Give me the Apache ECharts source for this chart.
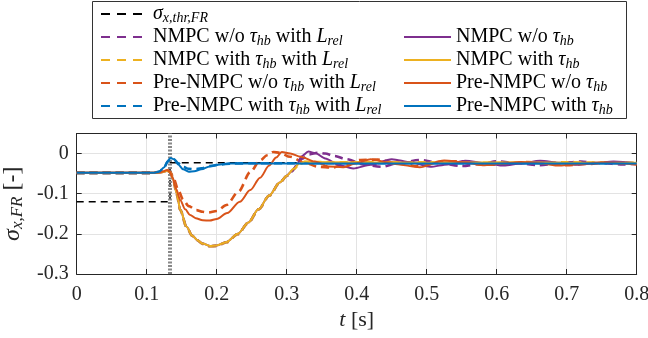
<!DOCTYPE html>
<html><head><meta charset="utf-8">
<script src="https://cdn.jsdelivr.net/npm/echarts@6/dist/echarts.min.js"></script>
<style>html,body{margin:0;padding:0;background:#fff}#c{width:648px;height:338px}</style>
</head><body><div id="c"></div>
<script>
// ---------- data ----------
const xTicks = [0, 0.1, 0.2, 0.3, 0.4, 0.5, 0.6, 0.7, 0.8];
const yTicks = [-0.3, -0.2, -0.1, 0];

const tThr = [0, 0.1333, 0.1333, 0.8];
const thr  = [-0.12, -0.12, -0.023, -0.023];

const tEvent = [0.1333, 0.1333];
const eventY = [-0.3, 0.05];

const tBlue = [0, 0.11, 0.118, 0.125, 0.13, 0.134, 0.139, 0.145, 0.152, 0.16, 0.168, 0.178, 0.19, 0.205, 0.22, 0.25, 0.3, 0.4, 0.5, 0.6, 0.7, 0.8];
const blueSolid = [-0.048, -0.048, -0.045, -0.034, -0.019, -0.011, -0.014, -0.027, -0.039, -0.045, -0.044, -0.039, -0.032, -0.027, -0.025, -0.025, -0.025, -0.025, -0.025, -0.025, -0.025, -0.025];
const blueDash  = [-0.048, -0.048, -0.045, -0.035, -0.020, -0.012, -0.014, -0.024, -0.033, -0.038, -0.039, -0.037, -0.031, -0.027, -0.025, -0.024, -0.024, -0.024, -0.024, -0.024, -0.024, -0.024];

const tYellow = [0, 0.11, 0.122, 0.13, 0.134, 0.138, 0.143, 0.148, 0.157, 0.165, 0.172, 0.18, 0.19, 0.2, 0.214, 0.23, 0.245, 0.26, 0.275, 0.29, 0.3, 0.31, 0.318, 0.326, 0.34, 0.4, 0.5, 0.6, 0.7, 0.8];
const yellowSolid = [-0.048, -0.048, -0.046, -0.043, -0.047, -0.065, -0.100, -0.140, -0.182, -0.204, -0.215, -0.224, -0.230, -0.229, -0.220, -0.200, -0.172, -0.138, -0.104, -0.072, -0.055, -0.038, -0.025, -0.020, -0.021, -0.022, -0.023, -0.022, -0.023, -0.023];
const yellowDash  = [-0.048, -0.048, -0.046, -0.043, -0.047, -0.066, -0.102, -0.141, -0.183, -0.205, -0.216, -0.225, -0.231, -0.230, -0.221, -0.201, -0.173, -0.139, -0.105, -0.073, -0.056, -0.039, -0.026, -0.021, -0.021, -0.022, -0.022, -0.023, -0.022, -0.023];

const tPurple = [0, 0.11, 0.122, 0.13, 0.134, 0.138, 0.143, 0.148, 0.157, 0.165, 0.172, 0.18, 0.19, 0.2, 0.214, 0.23, 0.245, 0.26, 0.275, 0.29, 0.3, 0.307, 0.314, 0.321, 0.331, 0.341, 0.355, 0.375, 0.395, 0.42, 0.45, 0.478, 0.505, 0.53, 0.555, 0.585, 0.61, 0.635, 0.662, 0.69, 0.714, 0.74, 0.767, 0.8];
const purpleSolid = [-0.048, -0.048, -0.046, -0.043, -0.047, -0.065, -0.100, -0.140, -0.182, -0.204, -0.215, -0.224, -0.230, -0.229, -0.220, -0.200, -0.172, -0.138, -0.104, -0.072, -0.055, -0.044, -0.030, -0.007, 0.005, 0.001, -0.012, -0.029, -0.037, -0.028, -0.014, -0.022, -0.033, -0.027, -0.018, -0.024, -0.030, -0.025, -0.018, -0.023, -0.028, -0.024, -0.020, -0.024];
const tPurpleD = [0, 0.11, 0.122, 0.13, 0.134, 0.138, 0.143, 0.148, 0.157, 0.165, 0.172, 0.18, 0.19, 0.2, 0.214, 0.23, 0.245, 0.26, 0.275, 0.29, 0.3, 0.307, 0.314, 0.322, 0.332, 0.345, 0.355, 0.368, 0.385, 0.41, 0.435, 0.46, 0.49, 0.52, 0.55, 0.58, 0.6, 0.63, 0.66, 0.69, 0.72, 0.75, 0.78, 0.8];
const purpleDash = [-0.048, -0.048, -0.046, -0.043, -0.047, -0.066, -0.102, -0.141, -0.183, -0.205, -0.216, -0.225, -0.231, -0.230, -0.221, -0.201, -0.173, -0.139, -0.105, -0.073, -0.056, -0.045, -0.031, -0.013, -0.002, 0.002, 0.000, -0.006, -0.014, -0.027, -0.033, -0.024, -0.016, -0.024, -0.031, -0.025, -0.019, -0.024, -0.029, -0.024, -0.020, -0.024, -0.027, -0.025];

const tOrange = [0, 0.11, 0.122, 0.129, 0.133, 0.137, 0.142, 0.148, 0.155, 0.162, 0.17, 0.18, 0.19, 0.2, 0.215, 0.233, 0.248, 0.262, 0.275, 0.285, 0.293, 0.305, 0.32, 0.34, 0.36, 0.38, 0.4, 0.42, 0.455, 0.49, 0.525, 0.555, 0.58, 0.61, 0.635, 0.66, 0.69, 0.72, 0.75, 0.78, 0.8];
const orangeSolid = [-0.048, -0.048, -0.045, -0.041, -0.045, -0.060, -0.088, -0.116, -0.139, -0.153, -0.161, -0.166, -0.167, -0.163, -0.148, -0.120, -0.091, -0.060, -0.030, -0.010, 0.004, 0.000, -0.008, -0.020, -0.032, -0.034, -0.024, -0.014, -0.026, -0.034, -0.017, -0.022, -0.029, -0.025, -0.021, -0.024, -0.030, -0.026, -0.022, -0.025, -0.028];
const tOrangeD = [0, 0.11, 0.122, 0.129, 0.134, 0.138, 0.145, 0.152, 0.16, 0.171, 0.18, 0.188, 0.2, 0.214, 0.231, 0.248, 0.262, 0.272, 0.281, 0.29, 0.305, 0.325, 0.345, 0.365, 0.385, 0.405, 0.43, 0.46, 0.49, 0.52, 0.55, 0.58, 0.61, 0.64, 0.67, 0.7, 0.73, 0.76, 0.8];
const orangeDash = [-0.048, -0.048, -0.045, -0.041, -0.046, -0.060, -0.090, -0.115, -0.131, -0.141, -0.145, -0.147, -0.143, -0.128, -0.095, -0.046, -0.017, -0.004, 0.004, 0.002, -0.008, -0.022, -0.033, -0.035, -0.026, -0.016, -0.015, -0.025, -0.032, -0.020, -0.019, -0.028, -0.027, -0.021, -0.023, -0.029, -0.026, -0.022, -0.026];

const names = {
  thr: 'σx,thr,FR',
  pD: 'NMPC w/o τhb with Lrel',
  yD: 'NMPC with τhb with Lrel',
  oD: 'Pre-NMPC w/o τhb with Lrel',
  bD: 'Pre-NMPC with τhb with Lrel',
  pS: 'NMPC w/o τhb',
  yS: 'NMPC with τhb',
  oS: 'Pre-NMPC w/o τhb',
  bS: 'Pre-NMPC with τhb'
};
const richNames = {
  'σx,thr,FR': '{i|σ}{s|x,thr,FR}',
  'NMPC w/o τhb with Lrel': 'NMPC w/o {i|τ}{s|hb} with {i|L}{s|rel}',
  'NMPC with τhb with Lrel': 'NMPC with {i|τ}{s|hb} with {i|L}{s|rel}',
  'Pre-NMPC w/o τhb with Lrel': 'Pre-NMPC w/o {i|τ}{s|hb} with {i|L}{s|rel}',
  'Pre-NMPC with τhb with Lrel': 'Pre-NMPC with {i|τ}{s|hb} with {i|L}{s|rel}',
  'NMPC w/o τhb': 'NMPC w/o {i|τ}{s|hb}',
  'NMPC with τhb': 'NMPC with {i|τ}{s|hb}',
  'Pre-NMPC w/o τhb': 'Pre-NMPC w/o {i|τ}{s|hb}',
  'Pre-NMPC with τhb': 'Pre-NMPC with {i|τ}{s|hb}'
};

const C = {blue: '#0072BD', orange: '#D95319', yellow: '#EDB120', purple: '#7E2F8E'};
const FONT = 'Liberation Serif';
const FS = 20;

function zip(t, v) { return t.map((x, i) => [x, v[i]]); }
function mk(name, t, v, color, dashed) {
  return {
    name, type: 'line', data: zip(t, v), showSymbol: false, symbol: 'none',
    smooth: 0.3, smoothMonotone: 'x',
    lineStyle: {color, width: dashed ? 2.6 : 2, type: dashed ? [8, 5] : 'solid'},
    itemStyle: {color}, z: dashed ? 3 : 4
  };
}
const dashItem = n => ({name: n, lineStyle: {type: [9, 7]}});

const rich = {
  i: {fontFamily: FONT, fontSize: FS, fontStyle: 'italic', color: '#000', lineHeight: 23},
  s: {fontFamily: FONT, fontSize: 14, fontStyle: 'italic', color: '#000', lineHeight: 12, verticalAlign: 'bottom'}
};
const legendBase = {
  orient: 'vertical', itemWidth: 47, itemHeight: 14, itemGap: 0, padding: 0,
  textStyle: {fontFamily: FONT, fontSize: FS, color: '#000', lineHeight: 23, rich},
  itemStyle: {opacity: 0},
  formatter: n => richNames[n], selectedMode: false
};

const axisCommon = {
  type: 'value',
  axisLine: {show: true, onZero: false, lineStyle: {color: '#262626', width: 1}},
  axisTick: {show: true, inside: true, length: 5, lineStyle: {color: '#262626'}},
  splitLine: {show: true, lineStyle: {color: '#e3e3e3', width: 1}}
};

const option = {
  animation: false,
  grid: {left: 76.7, right: 11.3, top: 133.5, bottom: 64, containLabel: false, outerBoundsMode: 'none'},
  graphic: [{type: 'rect', z: 0, shape: {x: 92.5, y: 1.5, width: 534, height: 117},
    style: {fill: '#fff', stroke: '#333', lineWidth: 1}}],
  legend: [
    Object.assign({}, legendBase, {left: 100, top: 2.5,
      data: [dashItem(names.thr), dashItem(names.pD), dashItem(names.yD), dashItem(names.oD), dashItem(names.bD)]}),
    Object.assign({}, legendBase, {left: 403, top: 25.5,
      data: [names.pS, names.yS, names.oS, names.bS]})
  ],
  xAxis: [
    Object.assign({}, axisCommon, {min: 0, max: 0.8, interval: 0.1, position: 'bottom',
      axisLabel: {fontFamily: FONT, fontSize: FS, color: '#262626', margin: 11,
        formatter: v => xTicks.indexOf(Math.round(v * 10) / 10) >= 0 ? String(Math.round(v * 10) / 10) : ''},
      name: '{i|t} [s]', nameLocation: 'middle', nameGap: 35,
      nameTextStyle: {fontFamily: FONT, fontSize: 22, color: '#262626',
        rich: {i: {fontFamily: FONT, fontSize: 22, fontStyle: 'italic', color: '#262626'}}}}),
    Object.assign({}, axisCommon, {min: 0, max: 0.8, interval: 0.1, position: 'top',
      axisLabel: {show: false}, splitLine: {show: false}})
  ],
  yAxis: [
    Object.assign({}, axisCommon, {min: -0.3, max: 0.05, interval: 0.1, position: 'left',
      axisLabel: {fontFamily: FONT, fontSize: FS, color: '#262626', margin: 8, showMaxLabel: false,
        formatter: v => { const r = Math.round(v * 10) / 10; return yTicks.indexOf(r) >= 0 && Math.abs(v - r) < 1e-6 ? (r === 0 ? '0' : r.toFixed(1)) : ''; }},
      name: '{i|σ}{s|x,FR} [-]', nameLocation: 'middle', nameRotate: 90, nameGap: 46,
      nameTextStyle: {fontFamily: FONT, fontSize: 24, color: '#262626', lineHeight: 26,
        rich: {i: {fontFamily: FONT, fontSize: 24, fontStyle: 'italic', color: '#262626', lineHeight: 26},
               s: {fontFamily: FONT, fontSize: 17, fontStyle: 'italic', color: '#262626', lineHeight: 14, verticalAlign: 'bottom'}}}}),
    Object.assign({}, axisCommon, {min: -0.3, max: 0.05, interval: 0.1, position: 'right',
      axisLabel: {show: false}, splitLine: {show: false}})
  ],
  series: [
    {name: names.thr, type: 'line', data: zip(tThr, thr), showSymbol: false, symbol: 'none',
      lineStyle: {color: '#000', width: 1.5, type: [7, 5]}, itemStyle: {color: '#000'}, z: 2},
    {name: 'event', type: 'line', data: zip(tEvent, eventY), showSymbol: false, symbol: 'none',
      lineStyle: {color: '#888', width: 4, type: [2, 1.5]}, z: 2},
    mk(names.pD, tPurpleD, purpleDash, C.purple, true),
    mk(names.yD, tYellow, yellowDash, C.yellow, true),
    mk(names.oD, tOrangeD, orangeDash, C.orange, true),
    mk(names.bD, tBlue, blueDash, C.blue, true),
    mk(names.pS, tPurple, purpleSolid, C.purple, false),
    mk(names.yS, tYellow, yellowSolid, C.yellow, false),
    mk(names.oS, tOrange, orangeSolid, C.orange, false),
    mk(names.bS, tBlue, blueSolid, C.blue, false)
  ]
};
const chart = echarts.init(document.getElementById('c'), null, {renderer: 'canvas'});
chart.setOption(option);
</script></body></html>
